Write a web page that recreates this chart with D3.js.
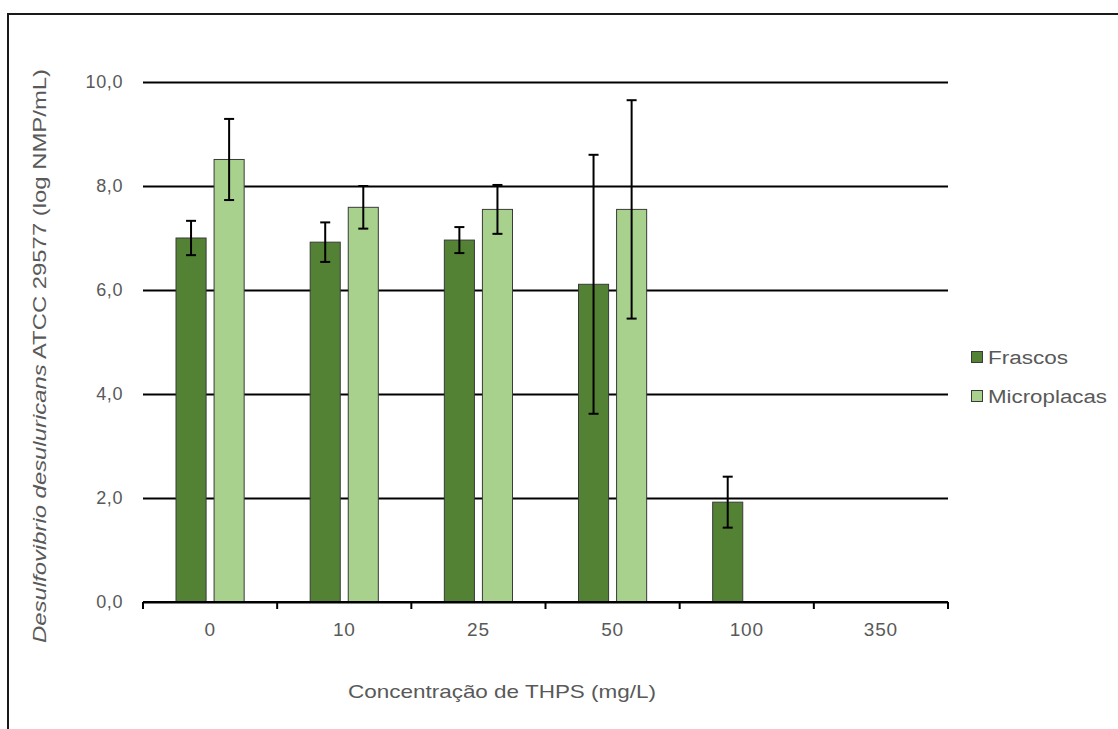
<!DOCTYPE html>
<html>
<head>
<meta charset="utf-8">
<script src="https://cdn.jsdelivr.net/npm/d3@7"></script>
<style>
  body { margin: 0; background: #fff; }
  svg { display: block; font-family: "Liberation Sans", Arial, sans-serif; }
</style>
</head>
<body>
<div id="chart"></div>
<script>
"use strict";

const categories = ["0", "10", "25", "50", "100", "350"];
const seriesNames = ["Frascos", "Microplacas"];
const frascos = [7.0, 6.92, 6.96, 6.11, 1.92, null];
const frascosErr = [0.33, 0.38, 0.25, 2.49, 0.49, null];
const microplacas = [8.51, 7.59, 7.55, 7.55, null, null];
const microplacasErr = [0.78, 0.41, 0.47, 2.1, null, null];
const yTicks = [0, 2, 4, 6, 8, 10];

const colors = { Frascos: "#548235", Microplacas: "#a9d18e" };
const textColor = "#595959";

// flatten series into one list of bars
function buildRows() {
  let rows = [];
  categories.forEach((c, i) => {
    rows.push({ cat: c, series: "Frascos", value: frascos[i], err: frascosErr[i] });
    rows.push({ cat: c, series: "Microplacas", value: microplacas[i], err: microplacasErr[i] });
  });
  return rows.filter((r) => r.value !== null);
}

function draw() {
  const w = 1118;
  const h = 729;
  const left = 143, right = 948, top = 82, bottom = 602;

  const svg = d3
    .select("#chart")
    .append("svg")
    .attr("width", w)
    .attr("height", h);

  // outer frame (runs off the right and bottom edges)
  svg
    .append("rect")
    .attr("x", 8)
    .attr("y", 14)
    .attr("width", 1300)
    .attr("height", 900)
    .attr("fill", "#fff")
    .attr("stroke", "#1a1a1a")
    .attr("stroke-width", 2);

  const x = d3.scaleBand().domain(categories).range([left, right]);
  const bw = x.bandwidth();
  const xs = d3
    .scaleBand()
    .domain(seriesNames)
    .range([bw * 0.246, bw * 0.754])
    .paddingInner(0.21);
  const y = d3.scaleLinear().domain([0, 10]).range([bottom, top]);

  const locale = d3.formatLocale({ decimal: ",", thousands: ".", grouping: [3], currency: ["", ""] });
  const fmt = locale.format(".1f");

  // gridlines + y labels
  const yAxis = svg
    .append("g")
    .attr("transform", `translate(${left},0)`)
    .call(d3.axisLeft(y).tickValues(yTicks).tickFormat(fmt).tickSize(-(right - left)).tickPadding(20));
  yAxis.select(".domain").remove();
  yAxis.selectAll(".tick line").attr("stroke", "#000").attr("stroke-width", 2);
  yAxis
    .selectAll(".tick text")
    .attr("fill", textColor)
    .style("font-size", "18px")
    .style("letter-spacing", "0.6px")
    .style("font-family", "'Liberation Sans', Arial, sans-serif");

  const rows = buildRows();

  // bars
  svg
    .append("g")
    .selectAll("rect")
    .data(rows)
    .enter()
    .append("rect")
    .attr("x", (d) => x(d.cat) + xs(d.series))
    .attr("y", (d) => y(d.value))
    .attr("width", xs.bandwidth())
    .attr("height", (d) => y(0) - y(d.value))
    .attr("fill", (d) => colors[d.series])
    .attr("stroke", "#3a3a3a")
    .attr("stroke-width", 1);

  // x axis with ticks at category boundaries
  const xAxis = svg
    .append("g")
    .attr("transform", `translate(0,${bottom})`)
    .call(d3.axisBottom(x).tickSize(0).tickPadding(21));
  xAxis.select(".domain").remove();
  xAxis
    .selectAll(".tick text")
    .attr("fill", textColor)
    .style("font-size", "19px")
    .style("letter-spacing", "0.8px")
    .style("font-family", "'Liberation Sans', Arial, sans-serif");
  xAxis
    .append("line")
    .attr("x1", left)
    .attr("x2", right)
    .attr("stroke", "#000")
    .attr("stroke-width", 2);
  const bounds = categories.map((c) => x(c)).concat([right]);
  xAxis
    .selectAll(".bound")
    .data(bounds)
    .enter()
    .append("line")
    .attr("class", "bound")
    .attr("x1", (d) => d)
    .attr("x2", (d) => d)
    .attr("y1", 0)
    .attr("y2", 7)
    .attr("stroke", "#000")
    .attr("stroke-width", 2);

  // error bars
  const eg = svg.append("g").attr("stroke", "#000").attr("stroke-width", 2);
  const cx = (d) => x(d.cat) + xs(d.series) + xs.bandwidth() / 2;
  rows.forEach((d) => {
    const yt = y(d.value + d.err);
    const yb = y(d.value - d.err);
    eg.append("line").attr("x1", cx(d)).attr("x2", cx(d)).attr("y1", yt).attr("y2", yb);
    eg.append("line").attr("x1", cx(d) - 5).attr("x2", cx(d) + 5).attr("y1", yt).attr("y2", yt);
    eg.append("line").attr("x1", cx(d) - 5).attr("x2", cx(d) + 5).attr("y1", yb).attr("y2", yb);
  });

  // axis titles
  svg
    .append("text")
    .attr("x", 502)
    .attr("y", 698)
    .attr("text-anchor", "middle")
    .attr("fill", textColor)
    .attr("textLength", 308)
    .attr("lengthAdjust", "spacingAndGlyphs")
    .style("font-size", "19px")
    .text("Concentração de THPS (mg/L)");

  const yt = svg
    .append("text")
    .attr("transform", "translate(46,356) rotate(-90)")
    .attr("text-anchor", "middle")
    .attr("fill", textColor)
    .attr("textLength", 574)
    .attr("lengthAdjust", "spacingAndGlyphs")
    .style("font-size", "19px");
  yt.append("tspan").style("font-style", "italic").text("Desulfovibrio desuluricans");
  yt.append("tspan").text(" ATCC 29577 (log NMP/mL)");

  // legend
  const legend = svg.append("g");
  const lw = { Frascos: 80, Microplacas: 119 };
  seriesNames.forEach((s, i) => {
    const ly = 364 + i * 39;
    legend
      .append("rect")
      .attr("x", 971.5)
      .attr("y", ly - 12.5)
      .attr("width", 11)
      .attr("height", 11)
      .attr("fill", colors[s])
      .attr("stroke", "#3a3a3a")
      .attr("stroke-width", 1);
    legend
      .append("text")
      .attr("x", 988)
      .attr("y", ly)
      .attr("fill", textColor)
      .attr("textLength", lw[s])
      .attr("lengthAdjust", "spacingAndGlyphs")
      .style("font-size", "18px")
      .text(s);
  });
}

draw();
</script>
</body>
</html>
